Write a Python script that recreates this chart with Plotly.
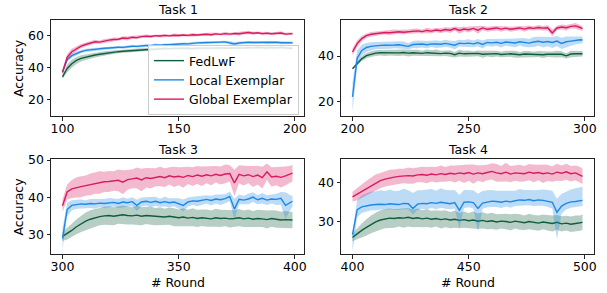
import plotly.graph_objects as go

TASKS = ["Task 1", "Task 2", "Task 3", "Task 4"]
TASK_START = [100, 200, 300, 400]
ROUND_OFFSETS = list(range(0, 100, 2)) + [99]
METHODS = ["FedLwF", "Local Exemplar", "Global Exemplar"]
COLORS = ["#105d3d", "#1e88e5", "#d81b60"]

X_TICKS = [[100, 150, 200], [200, 250, 300], [300, 350, 400], [400, 450, 500]]
Y_TICKS = [[20, 40, 60], [20, 40], [30, 40, 50], [30, 40]]

# ---------------- Task 1 ----------------
t1_fedlwf = [34.3, 39.5, 42.5, 44.5, 45.8, 46.6, 47.3, 47.9, 48.4, 48.9,
             49.3, 49.6, 50.0, 50.3, 50.5, 50.8, 51.0, 51.2, 51.4, 51.6,
             51.7, 51.9, 52.0, 51.9, 52.1, 52.0, 52.2, 52.1, 51.9, 52.2,
             52.1, 52.3, 52.0, 52.2, 52.4, 52.1, 52.3, 52.2, 52.5, 52.3,
             52.6, 52.4, 52.7, 52.5, 52.3, 52.6, 52.4, 52.7, 52.3, 52.1,
             52.2]
t1_fedlwf_sd = [1.2, 2.5, 2.5, 2.2, 2.0, 1.8, 1.6, 1.5, 1.4, 1.3,
                1.2, 1.1, 1.0, 1.0, 1.1, 0.9, 1.0, 0.9, 0.9, 1.0,
                0.9, 0.9, 1.0, 0.9, 0.9, 0.8, 0.9, 1.0, 0.9, 0.8,
                0.9, 0.8, 0.9, 1.0, 0.9, 0.8, 0.9, 0.9, 1.0, 0.8,
                0.9, 0.8, 0.9, 1.0, 0.9, 0.8, 0.9, 0.9, 0.8, 0.9,
                0.9]
t1_local = [37.5, 45.0, 47.5, 49.0, 50.0, 50.8, 51.2, 51.6, 51.9, 52.1,
            52.3, 52.6, 52.8, 52.7, 53.1, 53.4, 53.3, 53.7, 53.9, 53.8,
            54.2, 54.0, 54.4, 54.3, 54.6, 54.8, 55.0, 54.9, 55.3, 55.5,
            55.6, 55.8, 55.7, 55.9, 56.0, 56.1, 55.6, 54.8, 55.4, 55.7,
            55.9, 55.7, 55.8, 56.0, 55.7, 55.8, 55.9, 55.6, 55.7, 55.5,
            55.6]
t1_local_sd = [1.5, 1.5, 1.3, 1.2, 1.0, 1.0, 0.9, 0.8, 0.9, 0.8,
               0.8, 0.9, 0.8, 0.8, 0.9, 0.8, 0.8, 0.9, 0.8, 0.8,
               0.9, 0.8, 0.8, 0.9, 0.8, 0.9, 0.8, 0.8, 0.9, 0.8,
               0.8, 0.9, 0.8, 0.8, 0.9, 0.8, 1.0, 1.2, 0.9, 0.8,
               0.8, 0.9, 0.8, 0.8, 0.9, 0.8, 0.8, 0.9, 0.8, 0.8,
               0.8]
t1_global = [37.0, 46.5, 50.0, 52.0, 53.5, 54.5, 55.5, 56.2, 56.0, 56.8,
             57.2, 57.6, 57.8, 58.5, 58.3, 59.0, 58.8, 59.4, 59.7, 59.5,
             60.0, 59.8, 60.2, 59.9, 60.3, 60.1, 60.4, 60.2, 60.6, 60.4,
             60.7, 60.9, 60.6, 61.1, 60.8, 61.3, 61.0, 61.4, 61.2, 61.7,
             62.0, 61.5, 61.8, 61.3, 61.6, 61.2, 61.5, 61.7, 61.0, 61.2,
             61.3]
t1_global_sd = [1.5, 2.0, 1.8, 1.5, 1.3, 1.2, 1.1, 1.3, 1.0, 1.1,
                1.0, 1.2, 0.9, 1.1, 1.3, 0.9, 1.0, 0.8, 1.1, 0.9,
                0.8, 1.0, 0.9, 0.8, 1.0, 0.9, 0.8, 0.9, 1.0, 0.8,
                0.9, 0.8, 1.0, 0.9, 0.8, 1.1, 0.9, 0.8, 1.2, 0.9,
                1.1, 0.9, 0.8, 1.0, 0.9, 0.8, 0.9, 1.0, 0.8, 0.9,
                0.9]

# ---------------- Task 2 ----------------
t2_fedlwf = [34.4, 36.8, 38.8, 40.2, 40.9, 41.3, 41.5, 41.4, 41.6, 41.5,
             41.4, 41.6, 41.3, 41.5, 41.4, 41.2, 41.5, 41.3, 41.4, 41.1,
             41.3, 41.2, 40.6, 41.3, 41.0, 41.1, 40.9, 41.2, 40.8, 41.0,
             40.9, 41.1, 40.7, 40.9, 41.0, 40.8, 40.6, 40.9, 40.8, 40.7,
             40.9, 40.6, 40.8, 40.7, 40.9, 40.8, 40.1, 40.9, 41.0, 41.0,
             41.0]
t2_fedlwf_sd = [0.3, 0.8, 1.0, 1.2, 1.2, 1.3, 1.2, 1.4, 1.3, 1.2,
                1.4, 1.3, 1.5, 1.3, 1.4, 1.2, 1.4, 1.3, 1.5, 1.2,
                1.3, 1.4, 1.2, 1.5, 1.3, 1.4, 1.2, 1.3, 1.5, 1.2,
                1.4, 1.3, 1.2, 1.4, 1.3, 1.5, 1.2, 1.3, 1.4, 1.2,
                1.3, 1.4, 1.2, 1.3, 1.5, 1.3, 1.2, 1.4, 1.3, 1.2,
                1.2]
t2_local = [22.0, 39.0, 42.5, 43.8, 44.3, 44.6, 44.7, 44.8, 44.7, 44.9,
            45.0, 44.8, 44.3, 45.1, 45.2, 45.3, 45.0, 45.4, 45.3, 45.2,
            45.6, 45.3, 44.8, 45.7, 45.5, 45.7, 45.4, 45.9, 45.1, 46.0,
            45.8, 46.1, 45.6, 46.2, 45.9, 45.8, 46.3, 46.0, 45.7, 46.2,
            46.5, 46.1, 46.4, 46.0, 46.6, 45.6, 46.3, 46.6, 47.0, 47.2,
            47.1]
t2_local_sd = [6.5, 3.5, 2.5, 2.0, 1.8, 1.6, 1.5, 1.6, 1.5, 1.4,
               1.5, 1.6, 1.4, 1.5, 1.7, 1.5, 1.6, 1.4, 1.7, 1.5,
               1.6, 1.5, 1.8, 1.5, 1.6, 1.7, 1.5, 1.6, 1.8, 1.5,
               1.7, 1.6, 1.8, 1.5, 1.7, 1.9, 1.6, 2.0, 1.8, 2.2,
               2.0, 2.3, 2.1, 2.4, 2.2, 2.5, 2.3, 2.0, 1.8, 1.6,
               1.5]
t2_global = [41.8, 45.5, 47.7, 49.0, 49.6, 49.9, 50.2, 50.4, 50.3, 50.6,
             50.7, 50.5, 50.8, 50.9, 51.1, 50.8, 51.3, 51.0, 51.5, 51.2,
             51.7, 51.4, 52.1, 51.3, 51.9, 51.6, 52.2, 51.4, 52.4, 51.8,
             52.1, 52.4, 51.9, 52.3, 51.8, 52.1, 52.4, 51.9, 52.5, 52.2,
             52.6, 52.3, 52.5, 50.2, 52.4, 52.8, 52.5, 53.1, 53.3, 52.6,
             52.1]
t2_global_sd = [1.5, 1.5, 1.2, 1.0, 1.0, 0.9, 1.0, 0.9, 1.0, 1.1,
                0.9, 1.0, 0.9, 1.1, 1.0, 0.9, 1.2, 1.0, 0.9, 1.1,
                1.0, 1.2, 0.9, 1.5, 1.0, 1.2, 0.9, 1.6, 1.0, 1.1,
                0.9, 1.0, 1.2, 0.9, 1.1, 1.0, 0.9, 1.2, 1.0, 0.9,
                1.1, 1.0, 1.2, 1.5, 1.0, 1.1, 1.2, 1.0, 1.3, 1.1,
                1.0]

# ---------------- Task 3 ----------------
t3_fedlwf = [29.6, 30.3, 31.2, 32.2, 33.0, 33.7, 34.2, 34.6, 34.9, 35.1,
             35.2, 35.0, 35.3, 35.4, 35.2, 35.1, 35.3, 35.0, 35.2, 35.1,
             34.9, 35.0, 34.8, 35.0, 34.7, 34.6, 34.8, 34.5, 34.7, 34.4,
             34.6, 34.5, 34.3, 34.6, 34.4, 34.5, 34.3, 34.4, 34.6, 34.3,
             34.5, 34.2, 34.4, 34.3, 34.1, 34.4, 34.2, 34.0, 34.1, 34.0,
             34.0]
t3_fedlwf_sd = [1.2, 1.5, 1.8, 2.0, 2.2, 2.3, 2.4, 2.4, 2.3, 2.4,
                2.5, 2.4, 2.3, 2.5, 2.4, 2.3, 2.5, 2.4, 2.3, 2.4,
                2.3, 2.4, 2.2, 2.3, 2.4, 2.2, 2.3, 2.2, 2.4, 2.3,
                2.2, 2.3, 2.2, 2.4, 2.3, 2.2, 2.3, 2.2, 2.3, 2.2,
                2.3, 2.2, 2.3, 2.2, 2.4, 2.2, 2.3, 2.2, 2.3, 2.2,
                2.2]
t3_local = [29.0, 36.8, 37.9, 38.2, 38.3, 38.2, 38.4, 38.3, 38.5, 38.4,
            38.6, 38.7, 38.4, 38.8, 38.6, 38.9, 37.9, 38.8, 39.0, 38.7,
            39.0, 38.6, 38.9, 38.6, 38.8, 38.4, 37.9, 38.8, 39.1, 39.0,
            39.3, 39.5, 39.2, 39.6, 39.4, 39.7, 40.3, 36.9, 39.5, 39.3,
            39.6, 40.1, 39.4, 39.8, 39.3, 39.6, 39.5, 39.8, 37.9, 38.6,
            39.0]
t3_local_sd = [2.8, 1.8, 1.4, 1.2, 1.2, 1.1, 1.2, 1.3, 1.1, 1.2,
               1.3, 1.1, 1.2, 1.3, 1.1, 1.2, 1.5, 1.2, 1.1, 1.3,
               1.2, 1.1, 1.3, 1.2, 1.1, 1.4, 1.6, 1.2, 1.1, 1.3,
               1.2, 1.1, 1.3, 1.2, 1.4, 1.2, 1.3, 2.8, 1.3, 1.2,
               1.4, 1.3, 1.2, 1.4, 1.3, 1.2, 1.5, 1.7, 3.5, 2.0,
               1.5]
t3_global = [37.8, 41.5, 42.3, 42.7, 42.9, 43.2, 43.5, 43.8, 44.0, 44.2,
             44.3, 44.4, 44.6, 44.1, 44.8, 45.0, 45.2, 44.7, 45.3, 45.1,
             45.4, 45.6, 45.3, 45.8, 45.5, 45.7, 45.4, 45.9, 45.6, 46.0,
             45.7, 46.1, 45.8, 46.2, 45.9, 46.3, 46.4, 43.9, 46.2, 45.8,
             46.1, 45.6, 46.0, 45.3, 46.9, 45.5, 45.7, 45.4, 45.8, 46.2,
             46.5]
t3_global_sd = [1.7, 2.0, 2.4, 2.7, 2.8, 2.7, 2.9, 2.8, 3.0, 2.7,
                2.8, 2.6, 2.9, 3.2, 2.7, 2.5, 2.8, 3.0, 2.6, 2.7,
                2.4, 2.6, 2.5, 2.3, 2.7, 2.4, 2.8, 2.3, 2.5, 2.4,
                2.6, 2.3, 2.5, 2.2, 2.4, 2.5, 2.2, 3.5, 2.4, 2.6,
                2.3, 2.8, 2.5, 2.9, 2.2, 2.6, 2.4, 2.7, 2.5, 2.3,
                2.2]

# ---------------- Task 4 ----------------
t4_fedlwf = [25.8, 26.8, 27.6, 28.4, 29.2, 29.8, 30.3, 30.6, 30.8, 30.7,
             30.9, 30.8, 31.0, 30.7, 30.9, 30.6, 30.8, 30.5, 30.7, 30.4,
             30.6, 30.3, 30.5, 30.2, 30.4, 30.1, 30.3, 30.0, 30.2, 29.9,
             30.1, 29.8, 30.0, 29.9, 29.7, 30.0, 29.8, 29.6, 29.9, 29.7,
             29.5, 29.8, 29.6, 29.4, 29.7, 29.3, 29.5, 29.2, 29.4, 29.5,
             29.7]
t4_fedlwf_sd = [1.0, 1.4, 1.8, 2.1, 2.3, 2.4, 2.5, 2.4, 2.5, 2.4,
                2.3, 2.5, 2.4, 2.3, 2.4, 2.2, 2.3, 2.2, 2.1, 2.3,
                2.2, 2.1, 2.2, 2.0, 2.1, 2.0, 2.2, 2.0, 2.1, 2.0,
                2.1, 2.0, 1.9, 2.0, 2.1, 1.9, 2.0, 1.9, 2.0, 1.9,
                2.0, 1.9, 2.0, 2.1, 1.9, 2.0, 1.9, 2.0, 2.1, 2.0,
                2.0]
t4_local = [26.5, 33.0, 33.7, 34.0, 34.2, 34.3, 34.4, 34.3, 34.5, 34.4,
            34.3, 34.6, 34.5, 33.3, 34.4, 34.6, 34.5, 34.8, 34.6, 34.9,
            34.7, 34.5, 34.8, 32.8, 34.9, 35.0, 34.8, 33.3, 34.7, 35.0,
            35.2, 35.1, 34.9, 35.2, 35.0, 35.3, 35.5, 35.4, 35.6, 35.3,
            35.5, 35.4, 35.2, 34.9, 32.3, 33.9, 34.6, 35.0, 35.1, 35.3,
            35.4]
t4_local_up = [0.5, 2.5, 3.0, 3.3, 3.5, 3.4, 3.6, 3.5, 3.7, 3.4,
               3.6, 3.8, 3.5, 4.0, 3.6, 3.4, 3.7, 3.5, 3.3, 3.6,
               3.4, 3.5, 3.3, 4.0, 3.2, 3.0, 3.2, 3.8, 3.1, 3.0,
               2.9, 2.8, 3.0, 2.7, 2.9, 2.6, 2.8, 2.7, 2.5, 2.7,
               2.6, 2.8, 2.9, 3.0, 3.5, 3.2, 3.0, 3.2, 3.4, 3.5,
               3.5]
t4_local_dn = [4.5, 2.0, 1.6, 1.5, 1.4, 1.5, 1.4, 1.5, 1.4, 1.5,
               1.4, 1.5, 1.4, 1.6, 1.5, 1.4, 1.5, 1.4, 1.5, 1.4,
               1.5, 1.4, 1.5, 4.6, 1.5, 1.4, 1.5, 6.0, 1.5, 1.4,
               1.5, 1.4, 1.5, 1.4, 1.5, 1.4, 1.5, 1.4, 1.5, 1.4,
               1.5, 1.4, 1.5, 1.6, 7.0, 2.0, 1.6, 1.5, 1.4, 1.5,
               1.5]
t4_global = [36.3, 37.0, 37.8, 38.5, 39.3, 40.0, 40.5, 40.9, 41.2, 41.4,
             41.6, 41.7, 41.8, 41.7, 42.0, 42.1, 41.9, 42.2, 42.0, 42.3,
             42.1, 42.4, 42.2, 42.5, 42.3, 42.6, 42.2, 42.5, 42.3, 42.6,
             42.9, 42.5, 42.3, 42.7, 42.2, 42.5, 42.4, 42.3, 42.7, 42.4,
             42.6, 42.3, 42.5, 42.2, 42.7, 42.4, 42.8, 42.3, 42.5, 42.0,
             41.6]
t4_global_sd = [1.3, 1.6, 1.8, 2.0, 2.0, 2.1, 2.0, 1.9, 2.1, 2.0,
                2.0, 1.9, 2.1, 2.0, 1.9, 2.0, 2.1, 1.9, 2.0, 2.1,
                1.9, 2.0, 2.2, 2.0, 2.4, 2.1, 2.5, 2.0, 2.2, 2.0,
                2.1, 2.3, 2.0, 2.4, 2.1, 2.0, 2.2, 2.0, 2.1, 2.3,
                2.0, 2.4, 2.1, 2.0, 2.2, 2.0, 2.1, 2.0, 1.9, 2.0,
                2.0]

# series per task: (mean, upper spread, lower spread) in METHODS order
SERIES = [
    [(t1_fedlwf, t1_fedlwf_sd, t1_fedlwf_sd), (t1_local, t1_local_sd, t1_local_sd), (t1_global, t1_global_sd, t1_global_sd)],
    [(t2_fedlwf, t2_fedlwf_sd, t2_fedlwf_sd), (t2_local, t2_local_sd, t2_local_sd), (t2_global, t2_global_sd, t2_global_sd)],
    [(t3_fedlwf, t3_fedlwf_sd, t3_fedlwf_sd), (t3_local, t3_local_sd, t3_local_sd), (t3_global, t3_global_sd, t3_global_sd)],
    [(t4_fedlwf, t4_fedlwf_sd, t4_fedlwf_sd), (t4_local, t4_local_up, t4_local_dn), (t4_global, t4_global_sd, t4_global_sd)],
]

# ---------------- layout geometry (pixels) ----------------
W, H = 607, 293
# (left, right, top, bottom) in px for each subplot
BOXES = [(51, 304, 20, 116), (341, 594, 20, 116), (51, 304, 159, 254), (341, 594, 159, 254)]
X_RANGES = [[95.05, 203.95], [195.05, 303.95], [295.05, 403.95], [395.05, 503.95]]
Y_RANGES = [[9.8, 69.8], [13.6, 55.9], [24.9, 50.3], [21.5, 46.1]]

FONT = "DejaVu Sans"
FS = 12.5
AX_COLOR = "#222222"


def rgba(hex_color, a):
    h = hex_color.lstrip("#")
    r, g, b = int(h[0:2], 16), int(h[2:4], 16), int(h[4:6], 16)
    return f"rgba({r},{g},{b},{a})"


fig = go.Figure()
layout = dict(
    width=W, height=H,
    margin=dict(l=0, r=0, t=0, b=0, autoexpand=False),
    paper_bgcolor="white", plot_bgcolor="white",
    font=dict(family=FONT, size=FS, color="black"),
    showlegend=True,
)

annotations = []
for k in range(4):
    l, r, t, b = BOXES[k]
    xa = "x" if k == 0 else f"x{k+1}"
    ya = "y" if k == 0 else f"y{k+1}"
    xkey = "xaxis" if k == 0 else f"xaxis{k+1}"
    ykey = "yaxis" if k == 0 else f"yaxis{k+1}"
    start = TASK_START[k]
    xs = [start + o for o in ROUND_OFFSETS]
    for m, (mean, up, dn) in enumerate(SERIES[k]):
        upper = [v + s for v, s in zip(mean, up)]
        lower = [v - s for v, s in zip(mean, dn)]
        n = min(len(xs), len(upper), len(lower))
        fig.add_trace(go.Scatter(
            x=xs[:n] + xs[:n][::-1], y=upper[:n] + lower[:n][::-1],
            fill="toself", fillcolor=rgba(COLORS[m], 0.3),
            line=dict(width=0), mode="lines", hoverinfo="skip",
            showlegend=False, xaxis=xa, yaxis=ya))
        fig.add_trace(go.Scatter(
            x=xs[:len(mean)], y=mean, mode="lines",
            line=dict(color=COLORS[m], width=1.4),
            name=METHODS[m], legendgroup=METHODS[m],
            showlegend=(k == 0), xaxis=xa, yaxis=ya))

    common = dict(
        automargin=False, showline=True, mirror=True, linecolor=AX_COLOR, linewidth=1,
        ticks="outside", ticklen=3.5, tickwidth=1, tickcolor=AX_COLOR,
        showgrid=False, zeroline=False, tickfont=dict(size=FS, family=FONT, color="black"),
        tickmode="array",
    )
    layout[xkey] = dict(
        domain=[l / W, r / W], range=X_RANGES[k], anchor=ya, ticklabelstandoff=-3,
        tickvals=X_TICKS[k], ticktext=[str(v) for v in X_TICKS[k]], **common)
    layout[ykey] = dict(
        domain=[1 - b / H, 1 - t / H], range=Y_RANGES[k], anchor=xa,
        tickvals=Y_TICKS[k], ticktext=[str(v) for v in Y_TICKS[k]], **common)
    # subplot title
    annotations.append(dict(
        text=TASKS[k], x=(l + r) / 2 / W, y=1 - (t - 10) / H,
        xref="paper", yref="paper", xanchor="center", yanchor="middle",
        showarrow=False, font=dict(size=FS, family=FONT)))
    if k in (0, 2):
        annotations.append(dict(
            text="Accuracy", x=18 / W, y=1 - (t + b) / 2 / H,
            xref="paper", yref="paper", xanchor="center", yanchor="middle",
            textangle=-90, showarrow=False, font=dict(size=FS, family=FONT)))
    if k in (2, 3):
        annotations.append(dict(
            text="# Round", x=(l + r) / 2 / W, y=1 - 282.5 / H,
            xref="paper", yref="paper", xanchor="center", yanchor="middle",
            showarrow=False, font=dict(size=FS, family=FONT)))

layout["annotations"] = annotations
layout["legend"] = dict(
    x=148 / W, y=1 - 45 / H, xanchor="left", yanchor="top",
    bgcolor="rgba(255,255,255,0.85)", bordercolor="#cccccc", borderwidth=1,
    font=dict(size=FS, family=FONT), itemwidth=30,
    traceorder="grouped", tracegroupgap=0,
)
fig.update_layout(**layout)
fig.write_html("out.html", config={"displayModeBar": False},
               post_script="document.body.style.margin='0px';")
